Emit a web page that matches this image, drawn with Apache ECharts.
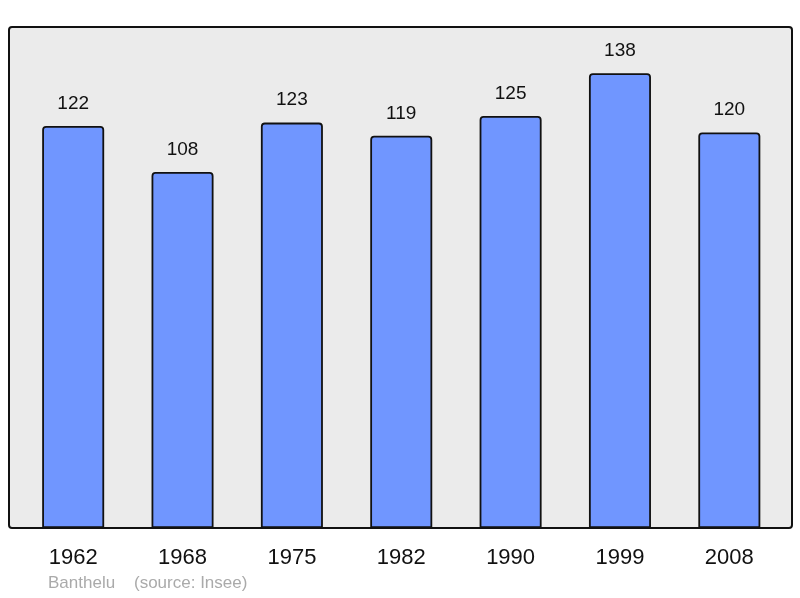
<!DOCTYPE html>
<html>
<head>
<meta charset="utf-8">
<script src="https://cdn.jsdelivr.net/npm/echarts@6/dist/echarts.min.js"></script>
<style>
  html, body { margin: 0; padding: 0; background: #fff; }
  #chart { width: 800px; height: 598px; }
</style>
</head>
<body>
<div id="chart"></div>
<script>
  const years = ["1962", "1968", "1975", "1982", "1990", "1999", "2008"];
  const population = [122, 108, 123, 119, 125, 138, 120];
  const footer = "Banthelu    (source: Insee)";

  const chart = echarts.init(document.getElementById("chart"));
  chart.setOption({
    animation: false,
    textStyle: { fontFamily: "Liberation Sans, Arial, sans-serif" },
    graphic: [
      {
        type: "rect",
        z: -10,
        shape: { x: 9, y: 27, width: 783, height: 501, r: 3 },
        style: { fill: "#ebebeb", stroke: "#111", lineWidth: 2 },
      },
      {
        type: "text",
        left: 48,
        top: 575,
        style: {
          text: footer,
          fill: "#aaaaaa",
          font: "17px Liberation Sans, Arial, sans-serif",
        },
      },
    ],
    grid: { left: 18.5, right: 16, top: 27, bottom: 70 },
    xAxis: {
      type: "category",
      data: years,
      axisLine: { show: false },
      axisTick: { show: false },
      axisLabel: { color: "#111", fontSize: 22, margin: 19 },
    },
    yAxis: {
      type: "value",
      min: 0,
      max: 152,
      show: false,
      splitLine: { show: false },
    },
    series: [
      {
        type: "bar",
        data: population,
        barWidth: 62,
        itemStyle: {
          color: "#7096ff",
          borderColor: "#111",
          borderWidth: 1.8,
          borderRadius: [3, 3, 0, 0],
        },
        label: {
          show: true,
          position: "top",
          distance: 13,
          color: "#111",
          fontSize: 19,
        },
      },
    ],
  });
</script>
</body>
</html>
